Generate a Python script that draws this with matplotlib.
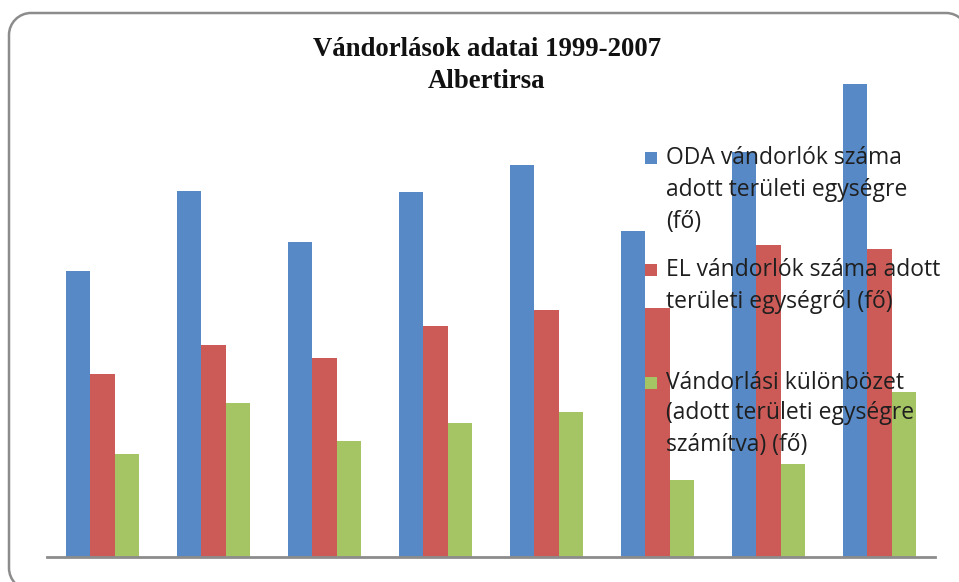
import matplotlib
matplotlib.use("Agg")
import matplotlib.pyplot as plt
from matplotlib.patches import Rectangle, PathPatch
from matplotlib.path import Path
import numpy as np

# Data (arbitrary units)
years = ["1999", "2000", "2001", "2002", "2003", "2004", "2005", "2006"]
oda = [286, 366, 315, 365, 392, 326, 405, 473]
el = [183, 212, 199, 231, 247, 249, 312, 308]
kulonbozet = [103, 154, 116, 134, 145, 77, 93, 165]

series_names = [
    ["ODA vándorlók száma", "adott területi egységre", "(fő)"],
    ["EL vándorlók száma adott", "területi egységről (fő)"],
    ["Vándorlási különbözet", "(adott területi egységre", "számítva) (fő)"],
]
colors = ["#5689C5", "#CC5B57", "#A5C463"]

W, H = 959, 582
fig = plt.figure(figsize=(W / 100, H / 100), dpi=100)

# overlay in pixel coordinates for frame, title and legend
ov = fig.add_axes([0, 0, 1, 1], zorder=3)
ov.set_xlim(0, W)
ov.set_ylim(H, 0)
ov.axis("off")
ov.patch.set_alpha(0)

# rounded frame (only the visible part: left edge with bottom-left curve, top edge, top-right curve)
x0, y0, x1, r = 9, 13, 968, 22
k = 0.5523 * r
yb = 590
verts = [
    (x0 + r, yb + 0.0), (x0 + r - k, yb), (x0, yb - r + k), (x0, yb - r),
    (x0, y0 + r),
    (x0, y0 + r - k), (x0 + r - k, y0), (x0 + r, y0),
    (x1 - r, y0),
    (x1 - r + k, y0), (x1, y0 + r - k), (x1, y0 + r),
    (x1, 600),
]
codes = [Path.MOVETO, Path.CURVE4, Path.CURVE4, Path.CURVE4,
         Path.LINETO,
         Path.CURVE4, Path.CURVE4, Path.CURVE4,
         Path.LINETO,
         Path.CURVE4, Path.CURVE4, Path.CURVE4,
         Path.LINETO]
ov.add_patch(PathPatch(Path(verts, codes), fill=False, edgecolor="#8c8c8c",
                       linewidth=1.8, zorder=0, clip_on=False))

# main axes
ax = fig.add_axes([47 / W, 1 - 557 / H, (935 - 47) / W, (557 - 60) / H], zorder=2)
ax.patch.set_alpha(0)
x = np.arange(len(years))
w = 0.222
for i, (vals, c) in enumerate(zip([oda, el, kulonbozet], colors)):
    ax.bar(x + (i - 1) * w, vals, width=w, color=c, edgecolor="none", zorder=2)
ax.set_xlim(-0.5, len(years) - 0.5)
ax.set_ylim(0, 497)
for s in ["top", "right", "left"]:
    ax.spines[s].set_visible(False)
ax.spines["bottom"].set_color("#8c8c8c")
ax.spines["bottom"].set_linewidth(2)
ax.set_xticks([])
ax.set_yticks([])

# title
ov.text(487, 50, "Vándorlások adatai 1999-2007", ha="center", va="center",
        fontsize=19.3, fontweight="bold", family="Liberation Serif", color="#111111")
ov.text(487, 82, "Albertirsa", ha="center", va="center",
        fontsize=19.3, fontweight="bold", family="Liberation Serif", color="#111111")

# legend
line_y = [[158, 190, 222], [270, 302], [383, 413, 445]]
for names, ys, c in zip(series_names, line_y, colors):
    ov.add_patch(Rectangle((645, ys[0] - 6), 12, 12, facecolor=c, edgecolor="none"))
    for t, yy in zip(names, ys):
        ov.text(666, yy, t, ha="left", va="center", fontsize=16.5, family="Open Sans",
                color="#1f1f1f")

fig.savefig("out.png", dpi=100)
